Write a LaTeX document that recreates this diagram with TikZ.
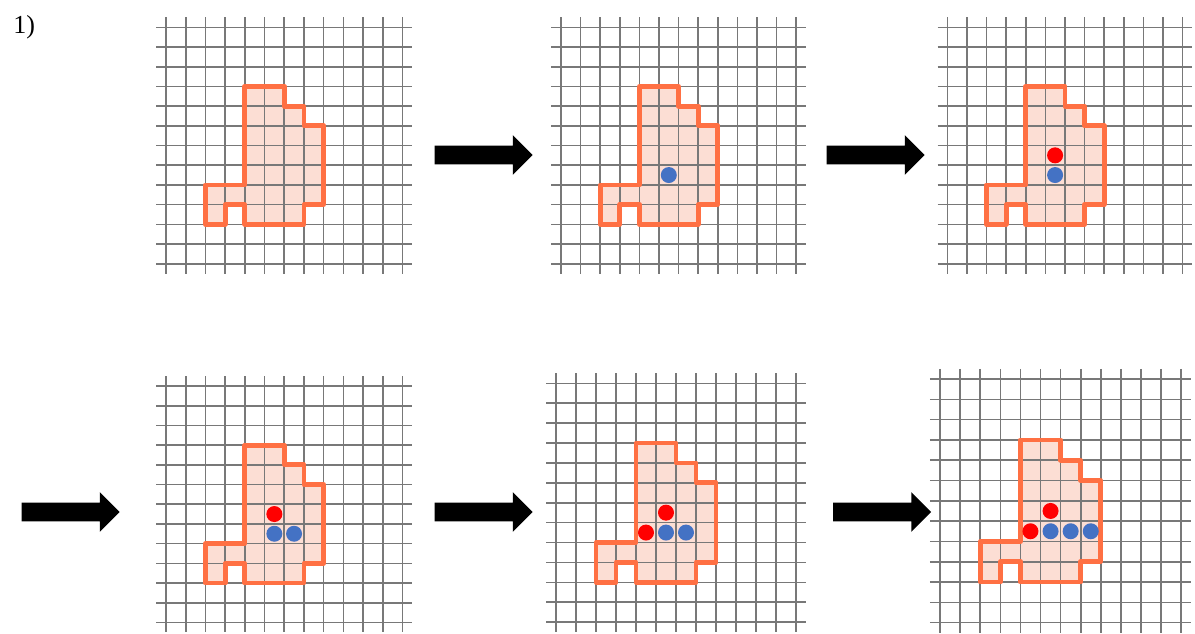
\documentclass[tikz,border=0pt]{standalone}
\usepackage{fontspec}
\setmainfont{Liberation Serif}
\usepackage{xcolor}
\usepackage{tikz}
\usetikzlibrary{shapes.arrows}
\definecolor{blobline}{RGB}{255, 112, 67}
\definecolor{blobfill}{RGB}{252, 222, 212}
\definecolor{dotblue}{RGB}{68, 114, 196}
\definecolor{dotred}{RGB}{255, 0, 0}
\definecolor{gridgray}{RGB}{120, 120, 120}

% one style per panel: origin of the grid and size of a cell
\tikzset{
    p1/.style={shift={(166,27.3)}, x=9.85pt, y=-9.85pt},
    p2/.style={shift={(561,27.3)}, x=9.8pt, y=-9.85pt},
    p3/.style={shift={(947.3,27.3)}, x=9.8pt, y=-9.85pt},
    p4/.style={shift={(166,386)}, x=9.85pt, y=-9.85pt},
    p5/.style={shift={(556,383.3)}, x=10pt, y=-9.95pt},
    p6/.style={shift={(940,379)}, x=10.05pt, y=-10.15pt}
}

\begin{document}
\begin{tikzpicture}[
    x=0.5pt, y=-0.5pt,
    gridline/.style={draw=gridgray, line width=0.8pt},
    blobin/.style={fill=blobfill},
    blobout/.style={draw=blobline, line width=2.4pt, line join=round},
    bluedot/.style={fill=dotblue},
    reddot/.style={fill=dotred},
    blockarrow/.style={single arrow, fill=black, draw=none, inner xsep=0pt, inner ysep=4.5pt, text height=0pt, text depth=0pt, minimum height=49pt, single arrow head extend=5.25pt, single arrow tip angle=90}
]
    \useasboundingbox (0,0) rectangle (1195,633);

    \node[anchor=base west, inner sep=0pt, font=\fontsize{13}{15}\selectfont] (lbl) at (13,33.3) {1)};

    % grid and shape of every panel
    \foreach \p in {p1,p2,p3,p4,p5,p6} {
        \begin{scope}[\p]
            \fill[blobin] (4,3) -- (6,3) -- (6,4) -- (7,4) -- (7,5) -- (8,5) -- (8,9) -- (7,9) -- (7,10) -- (4,10) -- (4,9) -- (3,9) -- (3,10) -- (2,10) -- (2,8) -- (4,8) -- cycle;
            \foreach \i in {0,...,12} {
                \draw[gridline] (\i,-0.5) -- (\i,12.5);
                \draw[gridline] (-0.5,\i) -- (12.5,\i);
            }
            \draw[blobout] (4,3) -- (6,3) -- (6,4) -- (7,4) -- (7,5) -- (8,5) -- (8,9) -- (7,9) -- (7,10) -- (4,10) -- (4,9) -- (3,9) -- (3,10) -- (2,10) -- (2,8) -- (4,8) -- cycle;
        \end{scope}
    }

    % dots
    \begin{scope}[p2]
        \fill[bluedot] (5.5,7.5) circle[radius=4pt];
    \end{scope}
    \begin{scope}[p3]
        \fill[reddot] (5.5,6.5) circle[radius=4pt];
        \fill[bluedot] (5.5,7.5) circle[radius=4pt];
    \end{scope}
    \begin{scope}[p4]
        \fill[reddot] (5.5,6.5) circle[radius=4pt];
        \fill[bluedot] (5.5,7.5) circle[radius=4pt];
        \fill[bluedot] (6.5,7.5) circle[radius=4pt];
    \end{scope}
    \begin{scope}[p5]
        \fill[reddot] (5.5,6.5) circle[radius=4pt];
        \fill[reddot] (4.5,7.5) circle[radius=4pt];
        \fill[bluedot] (5.5,7.5) circle[radius=4pt];
        \fill[bluedot] (6.5,7.5) circle[radius=4pt];
    \end{scope}
    \begin{scope}[p6]
        \fill[reddot] (5.5,6.5) circle[radius=4pt];
        \fill[reddot] (4.5,7.5) circle[radius=4pt];
        \fill[bluedot] (5.5,7.5) circle[radius=4pt];
        \fill[bluedot] (6.5,7.5) circle[radius=4pt];
        \fill[bluedot] (7.5,7.5) circle[radius=4pt];
    \end{scope}

    % arrows between the panels
    \node[blockarrow] (a1) at (479,155) {};
    \node[blockarrow] (a2) at (871,155) {};
    \node[blockarrow] (a3) at (66,512) {};
    \node[blockarrow] (a4) at (479,512) {};
    \node[blockarrow] (a5) at (877.5,512) {};
\end{tikzpicture}
\end{document}
